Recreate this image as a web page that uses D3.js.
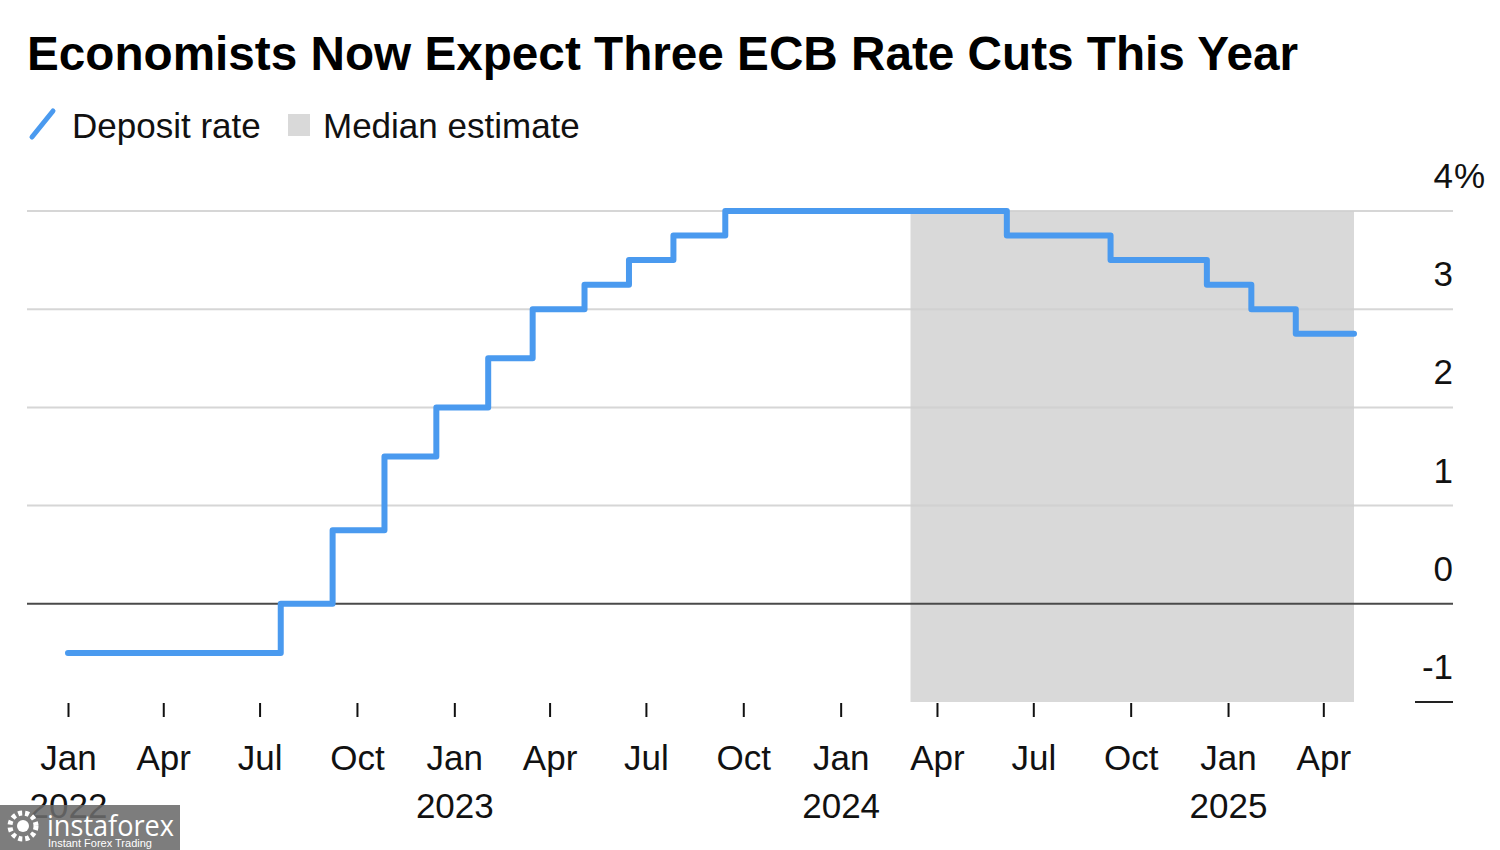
<!DOCTYPE html>
<html>
<head>
<meta charset="utf-8">
<script src="https://cdn.jsdelivr.net/npm/d3@7/dist/d3.min.js"></script>
<style>
  html, body { margin: 0; padding: 0; background: #fff; }
  svg { display: block; font-family: "Liberation Sans", Arial, Helvetica, sans-serif; }
</style>
</head>
<body>
<svg id="chart" width="1500" height="850"></svg>
<script>
// ---- Data ----
const stepDates = ["2022-01-01","2022-07-21","2022-09-08","2022-10-27","2022-12-15",
  "2023-02-02","2023-03-16","2023-05-04","2023-06-15","2023-07-27","2023-09-14",
  "2024-06-06","2024-09-12","2024-12-12","2025-01-23","2025-03-06","2025-04-30"];
const rates = [-0.5, 0, 0.75, 1.5, 2.0, 2.5, 3.0, 3.25, 3.5, 3.75, 4.0,
  3.75, 3.5, 3.25, 3.0, 2.75, 2.75];
const estimateRange = ["2024-03-07", "2025-04-30"];
const yTicks = [-1, 0, 1, 2, 3, 4];
const monthNames = ["Jan","Feb","Mar","Apr","May","Jun","Jul","Aug","Sep","Oct","Nov","Dec"];
const titleText = "Economists Now Expect Three ECB Rate Cuts This Year";
const legendLabels = ["Deposit rate", "Median estimate"];

// ---- Setup ----
const parse = d3.timeParse("%Y-%m-%d");
const data = stepDates.map((d, i) => ({ date: parse(d), value: rates[i] }));
const svg = d3.select("#chart");
const BLUE = "#4a9aef";
const SHADE = "#d9d9d9";

const x = d3.scaleTime()
  .domain([parse("2022-01-01"), parse("2025-04-30")])
  .range([68, 1354]);
const y = d3.scaleLinear().domain([-1, 4]).range([702, 211]);

const gridLeft = 27, gridRight = 1453;

// Title
svg.append("text")
  .attr("x", 27).attr("y", 70)
  .attr("font-size", 48).attr("font-weight", "bold").attr("fill", "#000")
  .attr("textLength", 1271).attr("lengthAdjust", "spacingAndGlyphs")
  .text(titleText);

// Legend
const lg = svg.append("g");
lg.append("line").attr("x1", 32).attr("y1", 137).attr("x2", 53).attr("y2", 111)
  .attr("stroke", BLUE).attr("stroke-width", 5).attr("stroke-linecap", "round");
lg.append("text").attr("x", 72).attr("y", 138).attr("font-size", 35).attr("fill", "#111")
  .text(legendLabels[0]);
lg.append("rect").attr("x", 288).attr("y", 114).attr("width", 22).attr("height", 22).attr("fill", SHADE);
lg.append("text").attr("x", 323).attr("y", 138).attr("font-size", 35).attr("fill", "#111")
  .text(legendLabels[1]);

// Shaded estimate region
svg.append("rect")
  .attr("x", x(parse(estimateRange[0])))
  .attr("y", y(4))
  .attr("width", x(parse(estimateRange[1])) - x(parse(estimateRange[0])))
  .attr("height", y(-1) - y(4))
  .attr("fill", SHADE);

// Gridlines
const grid = svg.append("g");
yTicks.forEach(t => {
  if (t === -1) {
    grid.append("line").attr("x1", 1415).attr("x2", gridRight)
      .attr("y1", y(t)).attr("y2", y(t))
      .attr("stroke", "#222").attr("stroke-width", 2);
  } else if (t === 0) {
    grid.append("line").attr("x1", gridLeft).attr("x2", gridRight)
      .attr("y1", y(t)).attr("y2", y(t))
      .attr("stroke", "#4a4a4a").attr("stroke-width", 2);
  } else {
    grid.append("line").attr("x1", gridLeft).attr("x2", gridRight)
      .attr("y1", y(t)).attr("y2", y(t))
      .attr("stroke", "#cfcfcf").attr("stroke-opacity", 0.85).attr("stroke-width", 2);
  }
});

// Right-side y labels (above gridlines)
const yl = svg.append("g");
yTicks.forEach(t => {
  yl.append("text")
    .attr("x", 1453).attr("y", y(t) - 23)
    .attr("text-anchor", "end").attr("font-size", 35).attr("fill", "#111")
    .text(String(t));
  if (t === 4) {
    yl.append("text")
      .attr("x", 1454).attr("y", y(t) - 23)
      .attr("font-size", 35).attr("fill", "#111")
      .text("%");
  }
});

// Step line
const line = d3.line()
  .x(d => x(d.date))
  .y(d => y(d.value))
  .curve(d3.curveStepAfter);
svg.append("path")
  .datum(data)
  .attr("d", line)
  .attr("fill", "none")
  .attr("stroke", BLUE)
  .attr("stroke-width", 6)
  .attr("stroke-linejoin", "round")
  .attr("stroke-linecap", "round");

// X axis
const tickVals = d3.timeMonth.every(3).range(parse("2022-01-01"), parse("2025-05-01"));
const xAxis = d3.axisBottom(x)
  .tickValues(tickVals)
  .tickSize(14)
  .tickSizeOuter(0)
  .tickFormat(d => monthNames[d.getMonth()]);
const ax = svg.append("g").attr("transform", "translate(0,703)").call(xAxis);
ax.select(".domain").remove();
ax.selectAll(".tick line").attr("stroke", "#111").attr("stroke-width", 2);
ax.selectAll(".tick text")
  .attr("font-family", "'Liberation Sans', Arial, sans-serif")
  .attr("font-size", 35).attr("fill", "#111")
  .attr("y", 0).attr("dy", null)
  .each(function(d) {
    const t = d3.select(this);
    t.text(null);
    t.append("tspan").attr("x", 0).attr("y", 67).text(monthNames[d.getMonth()]);
    if (d.getMonth() === 0) {
      t.append("tspan").attr("x", 0).attr("y", 115).text(String(d.getFullYear()));
    }
  });

// Watermark overlay
const wm = svg.append("g");
wm.append("rect").attr("x", 0).attr("y", 805).attr("width", 180).attr("height", 45)
  .attr("fill", "#6b6b6b").attr("fill-opacity", 0.88);
wm.append("circle").attr("cx", 23).attr("cy", 826).attr("r", 13)
  .attr("fill", "none").attr("stroke", "#fff").attr("stroke-width", 5).attr("stroke-dasharray", "4 3");
wm.append("circle").attr("cx", 23).attr("cy", 826).attr("r", 6).attr("fill", "#fff");
wm.append("text").attr("x", 47).attr("y", 836).attr("font-size", 30).attr("fill", "#fff")
  .attr("font-family", "'Open Sans', 'Liberation Sans', sans-serif")
  .attr("textLength", 127).attr("lengthAdjust", "spacingAndGlyphs").text("instaforex");
wm.append("text").attr("x", 48).attr("y", 847).attr("font-size", 11).attr("fill", "#fff")
  .text("Instant Forex Trading");
</script>
</body>
</html>
